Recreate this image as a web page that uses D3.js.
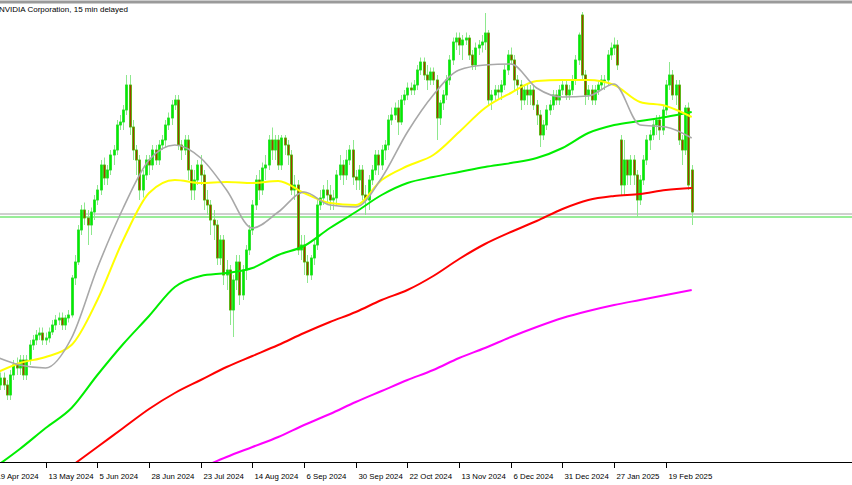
<!DOCTYPE html>
<html><head><meta charset="utf-8">
<script src="https://cdn.jsdelivr.net/npm/d3@7/dist/d3.min.js"></script>
<style>body{margin:0;background:#fff}svg{display:block}</style>
</head><body><svg id="c" width="852" height="485"></svg>
<script>
const title = "NVIDIA Corporation, 15 min delayed";
const tickIdx = [0,16,32,48,64,80,96,112,128,144,160,176,192,208];
const tickLabels = ["19 Apr 2024","13 May 2024","5 Jun 2024","28 Jun 2024","23 Jul 2024","14 Aug 2024","6 Sep 2024","30 Sep 2024","22 Oct 2024","13 Nov 2024","6 Dec 2024","31 Dec 2024","27 Jan 2025","19 Feb 2025"];
const open = [79,77,78,79.4,78,76,80,82,81.4,83, 80,83,86,87,88,88.4,87,87.4,88.6,90, 91,91.4,90,91.4,92,99.4,102.6,109,113,111.4, 110,112.6,115,117,122,119.4,121,124,125,130,
 130.6,133,138,129.6,125,123,117,120,123,122, 125,123,126,127,130,131.4,134,135,126,125, 127,121,117,119,122,120,115,114,111,110, 103.4,107,100,101,93,99,102.6,96,101,105,
 109,114,119,117,121.4,122,127,125,127,122, 127.4,126,124,117,118,105,106,102.6,100,103.4, 106,114,115.4,117,116,115,115.4,120,122,120, 123,125,119.6,119,121,116,115,119,121,124,
 122,125,126,131,132,133.4,130.6,135,136,137.4, 137,138,141,142.6,140,139,140.6,139,131.4,134.4, 136,139,143,146.6,147.4,146,147,147.4,144,142, 145.4,146,146.6,148.4,135,136,137,136.6,138,141,
 144,143,139,138,135,137,136,137,134,132, 128,130,133,134,136,135,137,138,136,137, 139,143,152,140,136,137,135,137,138,139, 139,144,145.4,146,127,118,123,120,123,120,
 115,119,123,127,128,130,131,129,133,138, 140,136,138,127,125,133.4,121];
const high = [80,79,80.5,80.5,79,81,83,83.5,84,84, 84,87,88,89,89.5,89.5,88.5,89.5,91,92, 92.5,92.5,92,93,100,104,110,114,114.5,113, 113.5,116,118,123,123.5,122,125,126,131,132,
 134,140,140,131,126,124,121,124,124,126, 126,127,128,131,132.5,135,136,136,127,128, 128,122,121,123,124,121,117,115,113,111, 108,108,103,102,100,104,104,102,106,110,
 115,120,121,122.5,124,128,129.5,128,128,128, 128,127,125,120,119,108,108,104,104,107, 115,117,118,119,118,117,121,124,123,125, 126,127,121,122,122,118,120,122,125,125,
 126,127,132,133.5,134.5,135,136,137,138.5,138.5, 139,142,143.5,143.5,142,141.5,141.5,140,135,137, 140,144,147.5,148.5,148.5,148,148.5,148,145,146.5, 147,148,152.4,149,137,138,138,139,142,145,
 145.5,144,140,139,138,138,138,138,135,133, 131,134,135,137,137,138,139,139,138,140, 144,148.5,152.6,141,138,138,138,139,140,140, 145,146.5,147.5,147,128,127,123,124,124,121,
 120,124,128,129,131,132,132,134,139,142.6, 141,139,139,128,134,134.5,122];
const low = [76,76,77,77,75,75,79,80,80,79, 79,82,85,86,87,86,86,86.5,88,89, 90,89,89,90.5,91.5,98,102,108,110,106, 108,111,114,116,118,118,120,122,124,129,
 129,132,128,123,120,115,115.5,119,120,121, 122,122,125,125.5,129,130,133,125,123,124, 119,115,115,118,118,113,112,108,107,102, 102,98,97,90,87.6,97,94,95,99,104,
 108,113,115,116,119,121,123,123,121,121, 124,122,116,115,104,103,100,98.4,99,102, 105,113,114,114,113,113,114,119,118,119, 122,118,117,117,115,112,113,118,120,120,
 121,123,125,130,131,128,130,134,135,136, 136,137,140,139,137,138,138,127,130,133, 135,138,142,145,144,143,146,143,141,141, 144,144.5,145,134,133,135,135,135,137,140,
 142,137,136,133,134,134,134,133,130,125.6, 127,129,132,133,134,134,136,135,135,136, 138,142,139,134,135,134,134,136,137,137, 138,143,144,141,116,116,118,118,118,111.6,
 114,118,122,125,127,128,127,128,132,137, 135,134,126,122,124,117,110];
const close = [77,78,79.4,78,76,80,82,81.4,83,80, 83,86,87,88,88.4,87,87.4,88.6,90,91, 91.4,90,91.4,92,99.4,102.6,109,113,111.4,110, 112.6,115,117,122,119.4,121,124,125,130,130.6,
 133,138,129.6,125,123,117,120,123,122,125, 123,126,127,130,131.4,134,135,126,125,127, 121,117,119,122,120,115,114,111,110,103.4, 107,100,101,93,99,102.6,96,101,105,109,
 114,119,117,121.4,122,127,125,127,122,127.4, 126,124,117,118,105,106,102.6,100,103.4,106, 114,115.4,117,116,115,115.4,120,122,120,123, 125,119.6,119,121,116,115,119,121,124,122,
 125,126,131,132,133.4,130.6,135,136,137.4,137, 138,141,142.6,140,139,140.6,139,131.4,134.4,136, 139,143,146.6,147.4,146,147,147.4,144,142,145.4, 146,146.6,148.4,135,136,137,136.6,138,141,144,
 143,139,138,135,137,136,137,134,132,128, 130,133,134,136,135,137,138,136,137,139, 143,148,140,136,137,135,137,138,139,139, 144,145.4,146,142,118,123,120,123,120,115,
 119,123,127,128,130,131,129,133,138,140, 136,138,127,125,133.4,118,112.6];
// moving averages sampled every 8 bars
const maGray = [83.8,82,81.4,87.4,101.4,113.4,123,126,123.4,117,109.4,112.6,116.6,114,113.6,119.4,128.6,136,141,142,142.2,137.4,135.6,135.8,138.2,130,129.6,127.4];
const maYellow = [80.2,82.4,83.6,86,95,107,116.4,119,118.4,118.6,118.4,118.8,116.4,114.4,114,119,121.8,124,128.6,133.4,136.4,138.8,139,139,138,134.6,133.8,131.6];
const maGreen = [61.4,65.2,69.4,73.4,80,86.2,91.8,97.6,99.8,100.4,101.4,104,105.8,109.4,112.6,116,118.4,119.6,120.6,121.6,122.4,123.4,125.4,128.4,130,130.8,131.6,132.6];
const maRed = [61.8,65.6,69.4,73.2,76.4,79,81.6,83.8,86,88.4,90.6,92.6,95,97,99.8,103.2,106.2,108.6,110.8,113.2,115,115.8,116.2,117,117.4]; // from bar 24
const maMagenta = [61.4,63.6,65.6,67.6,70,72.2,74.6,76.8,79,81,83.4,85.4,87.6,89.6,91.4,92.8,94,95,96,97]; // from bar 64
const levels = [{v:112.2,c:"#a0a0a0"},{v:111.6,c:"#33dd33"}];

const svg = d3.select("#c");
const x = d3.scaleLinear().domain([0,216]).range([-6,691.7]);
const y = d3.scaleLinear().domain([59,155]).range([480,0]);
const axisY = 462;
svg.append("defs").append("clipPath").attr("id","pc").append("rect").attr("x",0).attr("y",4).attr("width",852).attr("height",axisY-4);
const g = svg.append("g").attr("clip-path","url(#pc)");

levels.forEach(l=>g.append("line").attr("x1",0).attr("x2",852).attr("y1",y(l.v)).attr("y2",y(l.v)).attr("stroke",l.c).attr("stroke-width",1));

const bars = d3.range(close.length);
g.selectAll(".w").data(bars).join("line")
 .attr("x1",i=>Math.round(x(i))+0.5).attr("x2",i=>Math.round(x(i))+0.5)
 .attr("y1",i=>y(high[i])).attr("y2",i=>y(low[i]))
 .attr("stroke","#8ee88e").attr("stroke-width",1);
g.selectAll(".b").data(bars).join("rect")
 .attr("x",i=>Math.round(x(i))-0.5).attr("width",2)
 .attr("y",i=>y(Math.max(open[i],close[i])))
 .attr("height",i=>Math.max(1,Math.abs(y(open[i])-y(close[i]))))
 .attr("fill",i=>close[i]>=open[i]?"#00ee00":"#a03a00")
 .attr("stroke",i=>close[i]>=open[i]?"#22dd22":"#44bb00").attr("stroke-width",0.8);

function ma(vals,start,col,w){
  const line = d3.line().x((v,k)=>x(start+k*8)).y(v=>y(v)).curve(d3.curveMonotoneX);
  g.append("path").attr("d",line(vals)).attr("fill","none").attr("stroke",col).attr("stroke-width",w);
}
ma(maMagenta,64,"#ff00ff",2);
ma(maRed,24,"#ff0000",2);
ma(maGreen,0,"#00ee00",2);
ma(maYellow,0,"#ffff00",2);
ma(maGray,0,"#a8a8a8",1.6);

svg.append("line").attr("x1",0).attr("x2",852).attr("y1",2).attr("y2",2).attr("stroke","#9a9a9a").attr("stroke-width",3);
svg.append("text").attr("x",-1).attr("y",12).attr("font-family","Liberation Sans, Arial").attr("font-size",8).attr("fill","#000").text(title);

svg.append("line").attr("x1",0).attr("x2",852).attr("y1",axisY+0.5).attr("y2",axisY+0.5).attr("stroke","#000");
tickIdx.forEach((t,k)=>{
  const xx = Math.round(x(t))+0.5;
  svg.append("line").attr("x1",xx).attr("x2",xx).attr("y1",axisY).attr("y2",axisY+6).attr("stroke","#000");
  svg.append("text").attr("x",xx+2).attr("y",479).attr("font-family","Liberation Sans, Arial").attr("font-size",7.8).attr("fill","#000").text(tickLabels[k]);
});
</script></body></html>
